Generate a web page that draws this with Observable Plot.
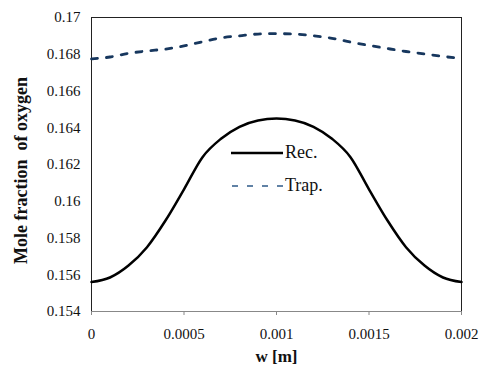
<!DOCTYPE html>
<html>
<head>
<meta charset="utf-8">
<script src="https://cdn.jsdelivr.net/npm/d3@7"></script>
<script src="https://cdn.jsdelivr.net/npm/@observablehq/plot@0.6"></script>
<style>
  body { margin: 0; background: #fff; }
  #wrap { position: relative; width: 479px; height: 367px; font-family: "Liberation Serif", "Times New Roman", serif; }
  #wrap svg text { font-family: "Liberation Serif", "Times New Roman", serif; }
  #legend { position: absolute; left: 231px; top: 136px; font-size: 18px; color: #111; }
  #legend .row { display: flex; align-items: center; height: 33px; }
  #legend svg { display: block; margin-right: 2px; }
</style>
</head>
<body>
<div id="wrap"></div>
<script>
const w = [0, 0.0001, 0.0002, 0.0003, 0.0004, 0.0005, 0.0006, 0.0007, 0.0008, 0.0009, 0.001,
           0.0011, 0.0012, 0.0013, 0.0014, 0.0015, 0.0016, 0.0017, 0.0018, 0.0019, 0.002];
const rec = [0.15560, 0.15585, 0.15650, 0.15750, 0.15895, 0.16065, 0.16240, 0.16340, 0.16405, 0.16440, 0.16450,
             0.16440, 0.16405, 0.16340, 0.16240, 0.16065, 0.15895, 0.15750, 0.15650, 0.15585, 0.15560];
const trap = [0.16775, 0.16785, 0.16805, 0.16818, 0.16828, 0.16845, 0.16868, 0.16889, 0.16900, 0.16910, 0.16912,
              0.16910, 0.16900, 0.16887, 0.16866, 0.16848, 0.16831, 0.16815, 0.16802, 0.16788, 0.16777];
const seriesNames = ["Rec.", "Trap."];
const xTicks = [0, 0.0005, 0.001, 0.0015, 0.002];
const yTicks = [0.154, 0.156, 0.158, 0.16, 0.162, 0.164, 0.166, 0.168, 0.17];
const xLabel = "w [m]";
const yLabel = "Mole fraction  of oxygen";

const recData = w.map((x, i) => ({w: x, v: rec[i]}));
const trapData = w.map((x, i) => ({w: x, v: trap[i]}));
const trapColor = "#17375e";
const serif = "'Liberation Serif', 'Times New Roman', serif";

const chart = Plot.plot({
  width: 479,
  height: 367,
  marginLeft: 91,
  marginRight: 18,
  marginTop: 17,
  marginBottom: 56,
  style: { fontFamily: serif, fontSize: "15px", color: "#111", background: "white" },
  x: { domain: [0, 0.002], label: null },
  y: { domain: [0.154, 0.17], label: null },
  marks: [
    Plot.frame({ stroke: "#222", strokeWidth: 1 }),
    Plot.ruleY([0.154], { stroke: "#888", strokeWidth: 1.2 }),
    Plot.axisX({ ticks: xTicks, tickFormat: d => String(+d.toFixed(4)), tickSize: 4, tickPadding: 13, stroke: "#888", label: null, fontSize: 15, fontFamily: serif }),
    Plot.axisY({ ticks: yTicks, tickFormat: d => String(+d.toFixed(3)), tickSize: 0, tickPadding: 11, label: null, fontSize: 15, fontFamily: serif }),
    Plot.line(recData, { x: "w", y: "v", stroke: "#000", strokeWidth: 2.5, curve: "monotone-x" }),
    Plot.line(trapData, { x: "w", y: "v", stroke: trapColor, strokeWidth: 2.8, strokeDasharray: "6,9", curve: "monotone-x" }),
    Plot.text([xLabel], { frameAnchor: "bottom", dy: 50, text: d => d, fontWeight: "bold", fontSize: 17, fontFamily: serif }),
    Plot.text([yLabel], { frameAnchor: "left", textAnchor: "middle", dx: -70, dy: 6, rotate: -90, text: d => d, fontWeight: "bold", fontSize: 18, fontFamily: serif })
  ]
});
const wrap = document.getElementById("wrap");
wrap.appendChild(chart);

const legend = document.createElement("div");
legend.id = "legend";
legend.innerHTML = `
  <div class="row"><svg width="52" height="10"><line x1="0" y1="5" x2="52" y2="5" stroke="#000" stroke-width="2.5"/></svg><span>${seriesNames[0]}</span></div>
  <div class="row"><svg width="52" height="10"><line x1="1" y1="5" x2="52" y2="5" stroke="#2e5a88" stroke-width="1.5" stroke-dasharray="6,9"/></svg><span>${seriesNames[1]}</span></div>`;
wrap.appendChild(legend);
</script>
</body>
</html>
